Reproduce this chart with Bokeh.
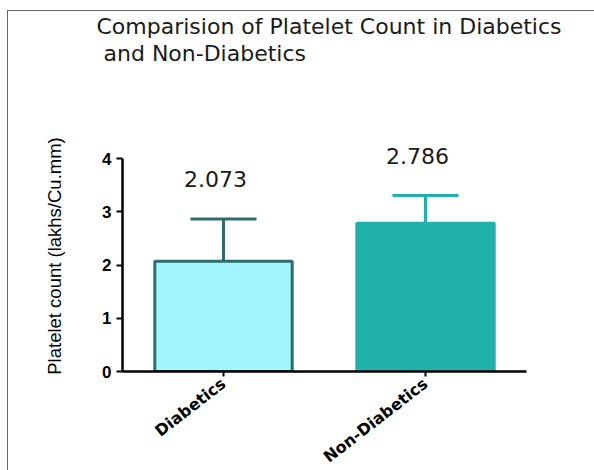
from bokeh.plotting import figure
from bokeh.models import ColumnDataSource, FactorRange, Range1d, Whisker, TeeHead, Title, FixedTicker
from bokeh.transform import dodge
from bokeh.core.properties import value
from bokeh.embed import file_html
from bokeh.resources import INLINE

# Mean platelet count (lakhs/Cu.mm) with standard deviation per group
groups = ["Diabetics", "Non-Diabetics"]
means = [2.073, 2.786]
sds = [0.79, 0.52]
fills = ["#A0F6FC", "#20B2AA"]
outlines = ["#2F6C6C", "#20B2AA"]
y_ticks = [0, 1, 2, 3, 4]

upper = [m + s for m, s in zip(means, sds)]
labels = [f"{m:.3f}" for m in means]

source = ColumnDataSource(data=dict(
    group=groups, mean=means, upper=upper, fill=fills, outline=outlines, label=labels,
))

p = figure(
    x_range=FactorRange(factors=groups, range_padding=0),
    y_range=Range1d(0, 4.34),
    frame_width=404, frame_height=231,
    min_border_left=114, min_border_right=68, min_border_top=129, min_border_bottom=99,
    output_backend="svg", toolbar_location=None,
    background_fill_color="white", border_fill_color="white",
)
# page sits inside a thin grey frame
p.margin = (11, 0, 0, 8)
p.styles = {"outline": "1.5px solid #666666"}
p.outline_line_color = None
p.grid.visible = False

p.vbar(x="group", top="mean", width=0.68, source=source,
       fill_color="fill", line_color="outline", line_width=3)

# upper error bars only, coloured to match each bar's outline
for i, g in enumerate(groups):
    sub = ColumnDataSource(data=dict(group=[g], mean=[means[i]], upper=[upper[i]]))
    w = Whisker(base="group", lower="mean", upper="upper", source=sub,
                line_color=outlines[i], line_width=3,
                upper_head=TeeHead(size=66, line_color=outlines[i], line_width=3),
                lower_head=None)
    p.add_layout(w)

p.text(x=dodge("group", -0.04, range=p.x_range), y="upper", text="label", source=source,
       y_offset=-32, text_align="center", text_baseline="bottom",
       text_font=value("DejaVu Sans"), text_font_size="22px", text_color="#1a1a1a")

# axes
p.yaxis.ticker = FixedTicker(ticks=y_ticks)
p.yaxis.bounds = (0, 4)
p.yaxis.axis_label = "Platelet count (lakhs/Cu.mm)"
p.yaxis.axis_label_text_font = "Liberation Sans"
p.yaxis.axis_label_text_font_style = "normal"
p.yaxis.axis_label_text_font_size = "18.5px"
p.yaxis.axis_label_text_color = "black"
p.yaxis.axis_label_standoff = 34
p.yaxis.minor_tick_line_color = None
p.yaxis.major_label_text_font = "Liberation Sans"
p.yaxis.major_label_text_font_style = "bold"
p.yaxis.major_label_text_font_size = "17px"
p.yaxis.major_label_text_color = "black"
p.yaxis.major_tick_out = 6
p.yaxis.major_tick_in = 0

p.xaxis.major_label_orientation = 0.66
p.xaxis.major_label_text_font = "DejaVu Sans"
p.xaxis.major_label_text_font_style = "bold"
p.xaxis.major_label_text_font_size = "16px"
p.xaxis.major_label_text_color = "black"
p.xaxis.major_tick_out = 5
p.xaxis.major_tick_in = 0

for ax in (p.xaxis, p.yaxis):
    ax.axis_line_color = "black"
    ax.axis_line_width = 2.5
    ax.major_tick_line_color = "black"
    ax.major_tick_line_width = 2

# two-line title, lifted away from the plot area by a blank spacer title
p.title = None
spacer = Title(text=" ", text_font_size="1px", standoff=72)
t2 = Title(text="and Non-Diabetics", align="left", offset=-19,
           text_font="DejaVu Sans", text_font_size="22px", text_font_style="normal",
           text_color="#1a1a1a", standoff=0)
t1 = Title(text="Comparision of Platelet Count in Diabetics", align="left", offset=-26,
           text_font="DejaVu Sans", text_font_size="22px", text_font_style="normal",
           text_color="#1a1a1a", standoff=0)
p.add_layout(spacer, "above")
p.add_layout(t2, "above")
p.add_layout(t1, "above")

open("out.html", "w").write(file_html(p, INLINE))
